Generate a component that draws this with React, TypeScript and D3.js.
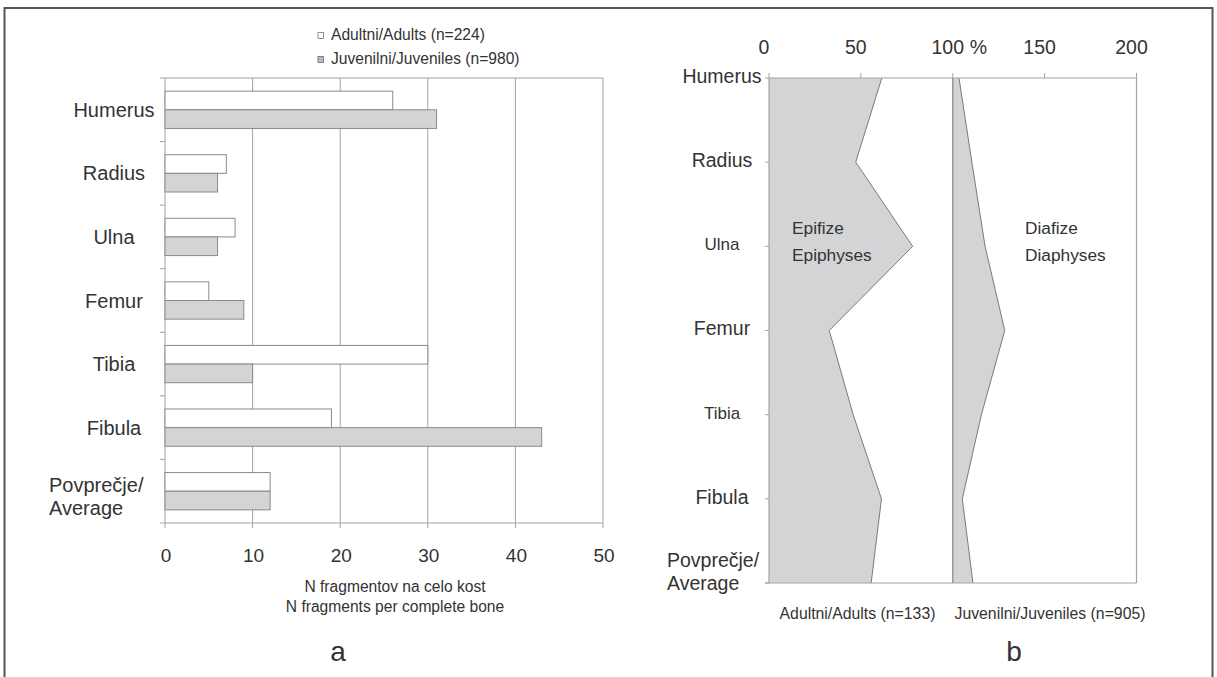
import * as d3 from "d3";

const bones = ["Humerus", "Radius", "Ulna", "Femur", "Tibia", "Fibula", "Povprečje/Average"];

// panel a: fragments per complete bone
const adultFrag = [26, 7, 8, 5, 30, 19, 12];
const juvFrag = [31, 6, 6, 9, 10, 43, 12];
const fragTicks = [0, 10, 20, 30, 40, 50];

// panel b: % epiphyses (adults) / diaphyses (juveniles, offset from 100)
const adultEpi = [61.4, 47.2, 78.2, 32.8, 45.8, 61.2, 55.6];
const juvDia = [103.4, 110.4, 117.6, 128.3, 115.6, 105.2, 111.0];
const pctTicks = [0, 50, 100, 150, 200];

const FONT = "'Liberation Sans', Arial, Helvetica, sans-serif";
const TXT = "#333";
const GRID = "#a3a3a3";
const FILL = "#d3d4d6";
const EDGE = "#7a7a7a";

const labelLines = (b: string) => {
  const i = b.indexOf("/");
  return i < 0 ? [b] : [b.slice(0, i + 1), b.slice(i + 1)];
};

export default function App() {
  const W = 1217;
  const H = 677;

  // ---- panel a ----
  const xa = d3.scaleLinear().domain([0, 50]).range([165, 603]);
  const ya = d3.scaleBand<string>().domain(bones).range([78, 523]);
  const sub = d3
    .scaleBand<string>()
    .domain(["adult", "juv"])
    .range([0, ya.bandwidth()])
    .paddingOuter(0.705);

  // ---- panel b ----
  const xb = d3.scaleLinear().domain([0, 200]).range([769, 1136.5]);
  const yb = d3.scalePoint<string>().domain(bones).range([78, 583]);

  const adultArea = d3
    .area<number>()
    .y((_, i) => yb(bones[i]) ?? 0)
    .x0(xb(0))
    .x1((d) => xb(d));
  const edgeLine = d3
    .line<number>()
    .x((d) => xb(d))
    .y((_, i) => yb(bones[i]) ?? 0);
  const juvArea = d3
    .area<number>()
    .y((_, i) => yb(bones[i]) ?? 0)
    .x0(xb(100))
    .x1((d) => xb(d));

  const [a0, a1] = ya.range();
  const [b0, b1] = yb.range();

  return (
    <svg
      width={W}
      height={H}
      viewBox={`0 0 ${W} ${H}`}
      style={{ position: "absolute", left: 0, top: 0, background: "#fff" }}
      fontFamily={FONT}
    >
      {/* outer frame */}
      <rect x={4.5} y={8} width={1208} height={700} fill="none" stroke="#555" strokeWidth={2} />

      {/* ===== panel a ===== */}
      {/* legend */}
      <rect x={318} y={32.5} width={5.5} height={6} fill="#fff" stroke="#777" strokeWidth={0.8} />
      <text x={331} y={35} dy="0.35em" fontSize={15.6} fill={TXT}>
        Adultni/Adults (n=224)
      </text>
      <rect x={318} y={56.5} width={5.5} height={6} fill="#bbb" stroke="#666" strokeWidth={0.8} />
      <text x={331} y={59} dy="0.35em" fontSize={15.6} fill={TXT}>
        Juvenilni/Juveniles (n=980)
      </text>

      {/* gridlines + frame */}
      {fragTicks.map((t) => (
        <line key={t} x1={xa(t)} x2={xa(t)} y1={a0} y2={a1} stroke={GRID} strokeWidth={1} />
      ))}
      <line x1={xa(0)} x2={xa(50)} y1={a0} y2={a0} stroke={GRID} strokeWidth={1} />
      <line x1={xa(0)} x2={xa(50)} y1={a1} y2={a1} stroke={GRID} strokeWidth={1} />
      {/* category ticks at band edges */}
      {[...bones.map((b) => ya(b) ?? 0), a1].map((yv, i) => (
        <line key={i} x1={xa(0) - 5} x2={xa(0)} y1={yv} y2={yv} stroke={GRID} strokeWidth={1} />
      ))}
      {/* x ticks */}
      {fragTicks.map((t) => (
        <line key={t} x1={xa(t)} x2={xa(t)} y1={a1} y2={a1 + 5} stroke={GRID} strokeWidth={1} />
      ))}

      {/* bars */}
      {bones.map((b, i) => {
        const y0 = ya(b) ?? 0;
        return (
          <g key={b}>
            <rect
              x={xa(0)}
              y={y0 + (sub("adult") ?? 0)}
              width={xa(adultFrag[i]) - xa(0)}
              height={sub.bandwidth()}
              fill="#fff"
              stroke="#8a8a8a"
              strokeWidth={1}
            />
            <rect
              x={xa(0)}
              y={y0 + (sub("juv") ?? 0)}
              width={xa(juvFrag[i]) - xa(0)}
              height={sub.bandwidth()}
              fill={FILL}
              stroke="#8a8a8a"
              strokeWidth={1}
            />
          </g>
        );
      })}

      {/* category labels */}
      {bones.map((b) => {
        const lines = labelLines(b);
        const cy = (ya(b) ?? 0) + ya.bandwidth() / 2;
        if (lines.length === 1)
          return (
            <text key={b} x={114} y={cy} dy="0.35em" textAnchor="middle" fontSize={20} fill={TXT}>
              {b}
            </text>
          );
        return (
          <text key={b} x={49} y={cy} fontSize={20} fill={TXT}>
            <tspan x={49} y={cy - 6} dy="0.35em">
              {lines[0]}
            </tspan>
            <tspan x={49} y={cy + 17} dy="0.35em">
              {lines[1]}
            </tspan>
          </text>
        );
      })}

      {/* x tick labels */}
      {fragTicks.map((t) => (
        <text key={t} x={xa(t) + 1} y={555} dy="0.35em" textAnchor="middle" fontSize={19} fill={TXT}>
          {t}
        </text>
      ))}
      <text x={395} y={587} dy="0.35em" textAnchor="middle" fontSize={15.6} fill={TXT}>
        N fragmentov na celo kost
      </text>
      <text x={395} y={607} dy="0.35em" textAnchor="middle" fontSize={15.6} fill={TXT}>
        N fragments per complete bone
      </text>
      <text x={338} y={661} textAnchor="middle" fontSize={28} fill={TXT}>
        a
      </text>

      {/* ===== panel b ===== */}
      <path d={adultArea(adultEpi) ?? ""} fill={FILL} />
      <path d={edgeLine(adultEpi) ?? ""} fill="none" stroke={EDGE} strokeWidth={1} />
      <path d={juvArea(juvDia) ?? ""} fill={FILL} />
      <path d={edgeLine(juvDia) ?? ""} fill="none" stroke={EDGE} strokeWidth={1} />

      {/* frame */}
      <line x1={xb(0)} x2={xb(200)} y1={b0} y2={b0} stroke={GRID} strokeWidth={1.2} />
      <line x1={xb(0) - 4} x2={xb(200)} y1={b1} y2={b1} stroke={GRID} strokeWidth={1.2} />
      <line x1={xb(0)} x2={xb(0)} y1={b0} y2={b1} stroke={GRID} strokeWidth={1.2} />
      <line x1={xb(200)} x2={xb(200)} y1={b0} y2={b1} stroke={GRID} strokeWidth={1.2} />
      <line x1={xb(100)} x2={xb(100)} y1={b0} y2={b1} stroke="#888" strokeWidth={1.2} />
      {pctTicks.map((t) => (
        <line key={t} x1={xb(t)} x2={xb(t)} y1={b0 - 5} y2={b0} stroke={GRID} strokeWidth={1} />
      ))}
      {bones.map((b) => (
        <line key={b} x1={xb(0) - 4} x2={xb(0)} y1={yb(b) ?? 0} y2={yb(b) ?? 0} stroke={GRID} strokeWidth={1} />
      ))}

      {/* top tick labels */}
      {pctTicks.map((t) => (
        <text key={t} x={xb(t) - 5} y={47} dy="0.35em" textAnchor="middle" fontSize={19.5} fill={TXT}>
          {t}
        </text>
      ))}
      <text x={xb(100) + 17} y={47} dy="0.35em" fontSize={19.5} fill={TXT}>
        %
      </text>

      {/* category labels */}
      {bones.map((b) => {
        const lines = labelLines(b);
        const cy = (yb(b) ?? 0) - 2;
        const small = b === "Ulna" || b === "Tibia";
        if (lines.length === 1)
          return (
            <text
              key={b}
              x={722}
              y={cy}
              dy="0.35em"
              textAnchor="middle"
              fontSize={small ? 17 : 19.5}
              fill={TXT}
            >
              {b}
            </text>
          );
        return (
          <text key={b} x={667} y={cy} fontSize={19.5} fill={TXT}>
            <tspan x={667} y={cy - 21} dy="0.35em">
              {lines[0]}
            </tspan>
            <tspan x={667} y={cy + 2} dy="0.35em">
              {lines[1]}
            </tspan>
          </text>
        );
      })}

      {/* inner labels */}
      <text x={792} y={228} dy="0.35em" fontSize={17.3} fill={TXT}>
        Epifize
      </text>
      <text x={792} y={255} dy="0.35em" fontSize={17.3} fill={TXT}>
        Epiphyses
      </text>
      <text x={1025} y={228} dy="0.35em" fontSize={17.3} fill={TXT}>
        Diafize
      </text>
      <text x={1025} y={255} dy="0.35em" fontSize={17.3} fill={TXT}>
        Diaphyses
      </text>

      {/* bottom labels */}
      <text x={857.5} y={613} dy="0.35em" textAnchor="middle" fontSize={15.8} fill={TXT}>
        Adultni/Adults (n=133)
      </text>
      <text x={1050} y={613} dy="0.35em" textAnchor="middle" fontSize={15.8} fill={TXT}>
        Juvenilni/Juveniles (n=905)
      </text>
      <text x={1014} y={661} textAnchor="middle" fontSize={28} fill={TXT}>
        b
      </text>
    </svg>
  );
}
